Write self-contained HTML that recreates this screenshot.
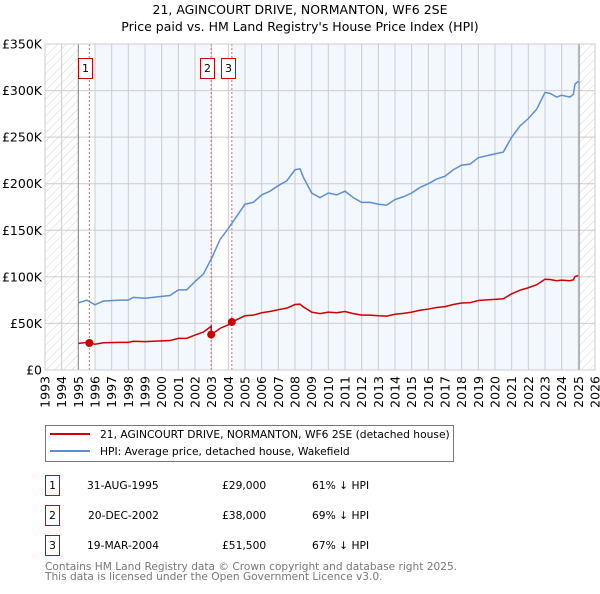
<!DOCTYPE html>
<html><head><meta charset="utf-8"><style>
body{margin:0;background:#fff;width:600px;height:590px;overflow:hidden;font-family:"DejaVu Sans","Liberation Sans",sans-serif}
svg text{font-family:"DejaVu Sans","Liberation Sans",sans-serif}
</style></head><body>
<svg id="c" width="600" height="590" xmlns="http://www.w3.org/2000/svg">
<defs><pattern id="hatch" width="6" height="6" patternUnits="userSpaceOnUse" patternTransform="rotate(45)"><line x1="0" y1="0" x2="0" y2="6" stroke="#d4d4d4" stroke-width="1"/></pattern></defs>
<text x="300" y="14" text-anchor="middle" font-size="12.5">21, AGINCOURT DRIVE, NORMANTON, WF6 2SE</text>
<text x="300" y="31" text-anchor="middle" font-size="12.5">Price paid vs. HM Land Registry's House Price Index (HPI)</text>
<g id="plot"></g>
<rect x="45.5" y="425.5" width="408" height="36" fill="#fff" stroke="#777"/>
<line x1="50" y1="434" x2="90" y2="434" stroke="#cc0000" stroke-width="2"/>
<text x="100" y="438" font-size="10.7">21, AGINCOURT DRIVE, NORMANTON, WF6 2SE (detached house)</text>
<line x1="50" y1="451" x2="90" y2="451" stroke="#5b8fd4" stroke-width="2"/>
<text x="100" y="455" font-size="10.7">HPI: Average price, detached house, Wakefield</text>
<g font-size="10.7">
<rect x="45.5" y="475.5" width="14" height="20" fill="none" stroke="#cc0000"/><text x="52.5" y="489" text-anchor="middle">1</text>
<text x="87" y="489">31-AUG-1995</text><text x="222" y="489">£29,000</text><text x="312" y="489">61% ↓ HPI</text>
<rect x="45.5" y="505.5" width="14" height="20" fill="none" stroke="#cc0000"/><text x="52.5" y="519" text-anchor="middle">2</text>
<text x="88" y="519">20-DEC-2002</text><text x="222" y="519">£38,000</text><text x="312" y="519">69% ↓ HPI</text>
<rect x="45.5" y="535.5" width="14" height="20" fill="none" stroke="#cc0000"/><text x="52.5" y="549" text-anchor="middle">3</text>
<text x="87" y="549">19-MAR-2004</text><text x="222" y="549">£51,500</text><text x="312" y="549">67% ↓ HPI</text>
</g>
<text x="45" y="570" font-size="10.6" fill="#777">Contains HM Land Registry data © Crown copyright and database right 2025.</text>
<text x="45" y="580" font-size="10.6" fill="#777">This data is licensed under the Open Government Licence v3.0.</text>
</svg>
<script>
const hpiT=[1995.0,1995.5,1996.0,1996.5,1997.5,1998.0,1998.3,1999.0,2000.0,2000.5,2001.0,2001.5,2002.0,2002.5,2003.0,2003.5,2004.0,2004.5,2005.0,2005.5,2006.0,2006.5,2007.0,2007.5,2008.0,2008.3,2008.5,2009.0,2009.5,2010.0,2010.5,2011.0,2011.5,2012.0,2012.5,2013.0,2013.5,2014.0,2014.5,2015.0,2015.5,2016.0,2016.5,2017.0,2017.5,2018.0,2018.5,2019.0,2019.5,2020.0,2020.5,2021.0,2021.5,2022.0,2022.5,2023.0,2023.3,2023.7,2024.0,2024.5,2024.7,2024.8,2025.0];
const hpiV=[72,75,70,74,75,75,78,77,79,80,86,86,95,103,120,140,152,165,178,180,188,192,198,203,215,216,207,190,185,190,188,192,185,180,180,178,177,183,186,190,196,200,205,208,215,220,221,228,230,232,234,250,262,270,280,298,297,293,295,293,296,307,310];
const saleT=[1995.66,2002.97,2004.21];
const saleV=[29,38,51.5];
const saleLabels=["1","2","3"];
const yTicks=[0,50,100,150,200,250,300,350];
const yTickLabels=["£0","£50K","£100K","£150K","£200K","£250K","£300K","£350K"];
const xYears=[1993,1994,1995,1996,1997,1998,1999,2000,2001,2002,2003,2004,2005,2006,2007,2008,2009,2010,2011,2012,2013,2014,2015,2016,2017,2018,2019,2020,2021,2022,2023,2024,2025,2026];
const X0=45,X1=595,Y0=370,Y1=44;
const x=t=>X0+(t-1993)/33*(X1-X0);
const y=v=>Y0-v/350*(Y0-Y1);
const NS="http://www.w3.org/2000/svg";
const g=document.getElementById('plot');
function mk(tag,attrs,parent){const e=document.createElementNS(NS,tag);for(const k in attrs)e.setAttribute(k,attrs[k]);(parent||g).appendChild(e);return e;}
function hpiAt(t){for(let i=1;i<hpiT.length;i++){if(t<=hpiT[i]){const f=(t-hpiT[i-1])/(hpiT[i]-hpiT[i-1]);return hpiV[i-1]+f*(hpiV[i]-hpiV[i-1]);}}return hpiV[hpiV.length-1];}
let e;
e=mk('rect',{x:x(1995),y:Y1,width:x(2025.05)-x(1995),height:Y0-Y1,fill:'#f3f7fe'});

e=mk('rect',{x:x(1995),y:Y1,width:x(1996)-x(1995),height:Y0-Y1,fill:'#fff'});

e=mk('rect',{x:x(saleT[1]),y:Y1,width:x(saleT[2])-x(saleT[1]),height:Y0-Y1,fill:'#fff'});

e=mk('rect',{x:X0,y:Y1,width:x(1995)-X0,height:Y0-Y1,fill:'url(#hatch)'});

e=mk('rect',{x:x(2025.05),y:Y1,width:X1-x(2025.05),height:Y0-Y1,fill:'url(#hatch)'});

xYears.forEach((yr,i)=>{
 e=mk('line',{x1:x(yr),x2:x(yr),y1:Y1,y2:Y0,stroke:'#ccc','stroke-width':1});
 
 e=mk('text',{x:0,y:0,'font-size':12.5,'text-anchor':'end',transform:`translate(${x(yr)+4.5},${Y0+6}) rotate(-90)`});
 e.textContent=yr;
 
});
yTicks.forEach((v,i)=>{
 e=mk('line',{x1:X0,x2:X1,y1:y(v),y2:y(v),stroke:'#ccc','stroke-width':1});
 
 e=mk('text',{x:X0-3,y:y(v)+4.5,'font-size':12.5,'text-anchor':'end'});
 e.textContent=yTickLabels[i];
 
});
e=mk('line',{x1:x(1995),x2:x(1995),y1:Y1,y2:Y0,stroke:'#888'});

e=mk('line',{x1:x(2025.05),x2:x(2025.05),y1:Y1,y2:Y0,stroke:'#888'});

saleT.forEach((t,i)=>{
 e=mk('line',{x1:x(t),x2:x(t),y1:Y1,y2:Y0,stroke:'#f06060','stroke-dasharray':'2,2'});
 
});
e=mk('polyline',{points:hpiT.map((t,i)=>x(t)+','+y(hpiV[i])).join(' '),fill:'none',stroke:'#5b8fd4','stroke-width':1.5});

const pts=[];
hpiT.forEach((t,i)=>{
 let k=-1;for(let j=0;j<saleT.length;j++)if(saleT[j]<=t)k=j;
 if(i>0){for(let j=0;j<saleT.length;j++){if(saleT[j]>hpiT[i-1]&&saleT[j]<=t){
   if(j>0){pts.push([saleT[j],hpiAt(saleT[j])*saleV[j-1]/hpiAt(saleT[j-1])]);}
   pts.push([saleT[j],saleV[j]]);}}}
 const r=k<0?saleV[0]/hpiAt(saleT[0]):saleV[k]/hpiAt(saleT[k]);
 pts.push([t,hpiV[i]*r]);
});
e=mk('polyline',{points:pts.map(p=>x(p[0])+','+y(p[1])).join(' '),fill:'none',stroke:'#cc0000','stroke-width':1.5});

saleT.forEach((t,i)=>{
 e=mk('circle',{cx:x(t),cy:y(saleV[i]),r:4,fill:'#cc0000'});
 
 e=mk('rect',{x:Math.round(x(t))-10.5,y:58.5,width:14,height:20,fill:'#fff',stroke:'#cc0000'});
 
 e=mk('text',{x:Math.round(x(t))-3.5,y:72,'font-size':11,'text-anchor':'middle'});
 e.textContent=saleLabels[i];
 
});
e=mk('rect',{x:X0,y:Y1,width:X1-X0,height:Y0-Y1,fill:'none',stroke:'#ccc'});

</script>
</body></html>
